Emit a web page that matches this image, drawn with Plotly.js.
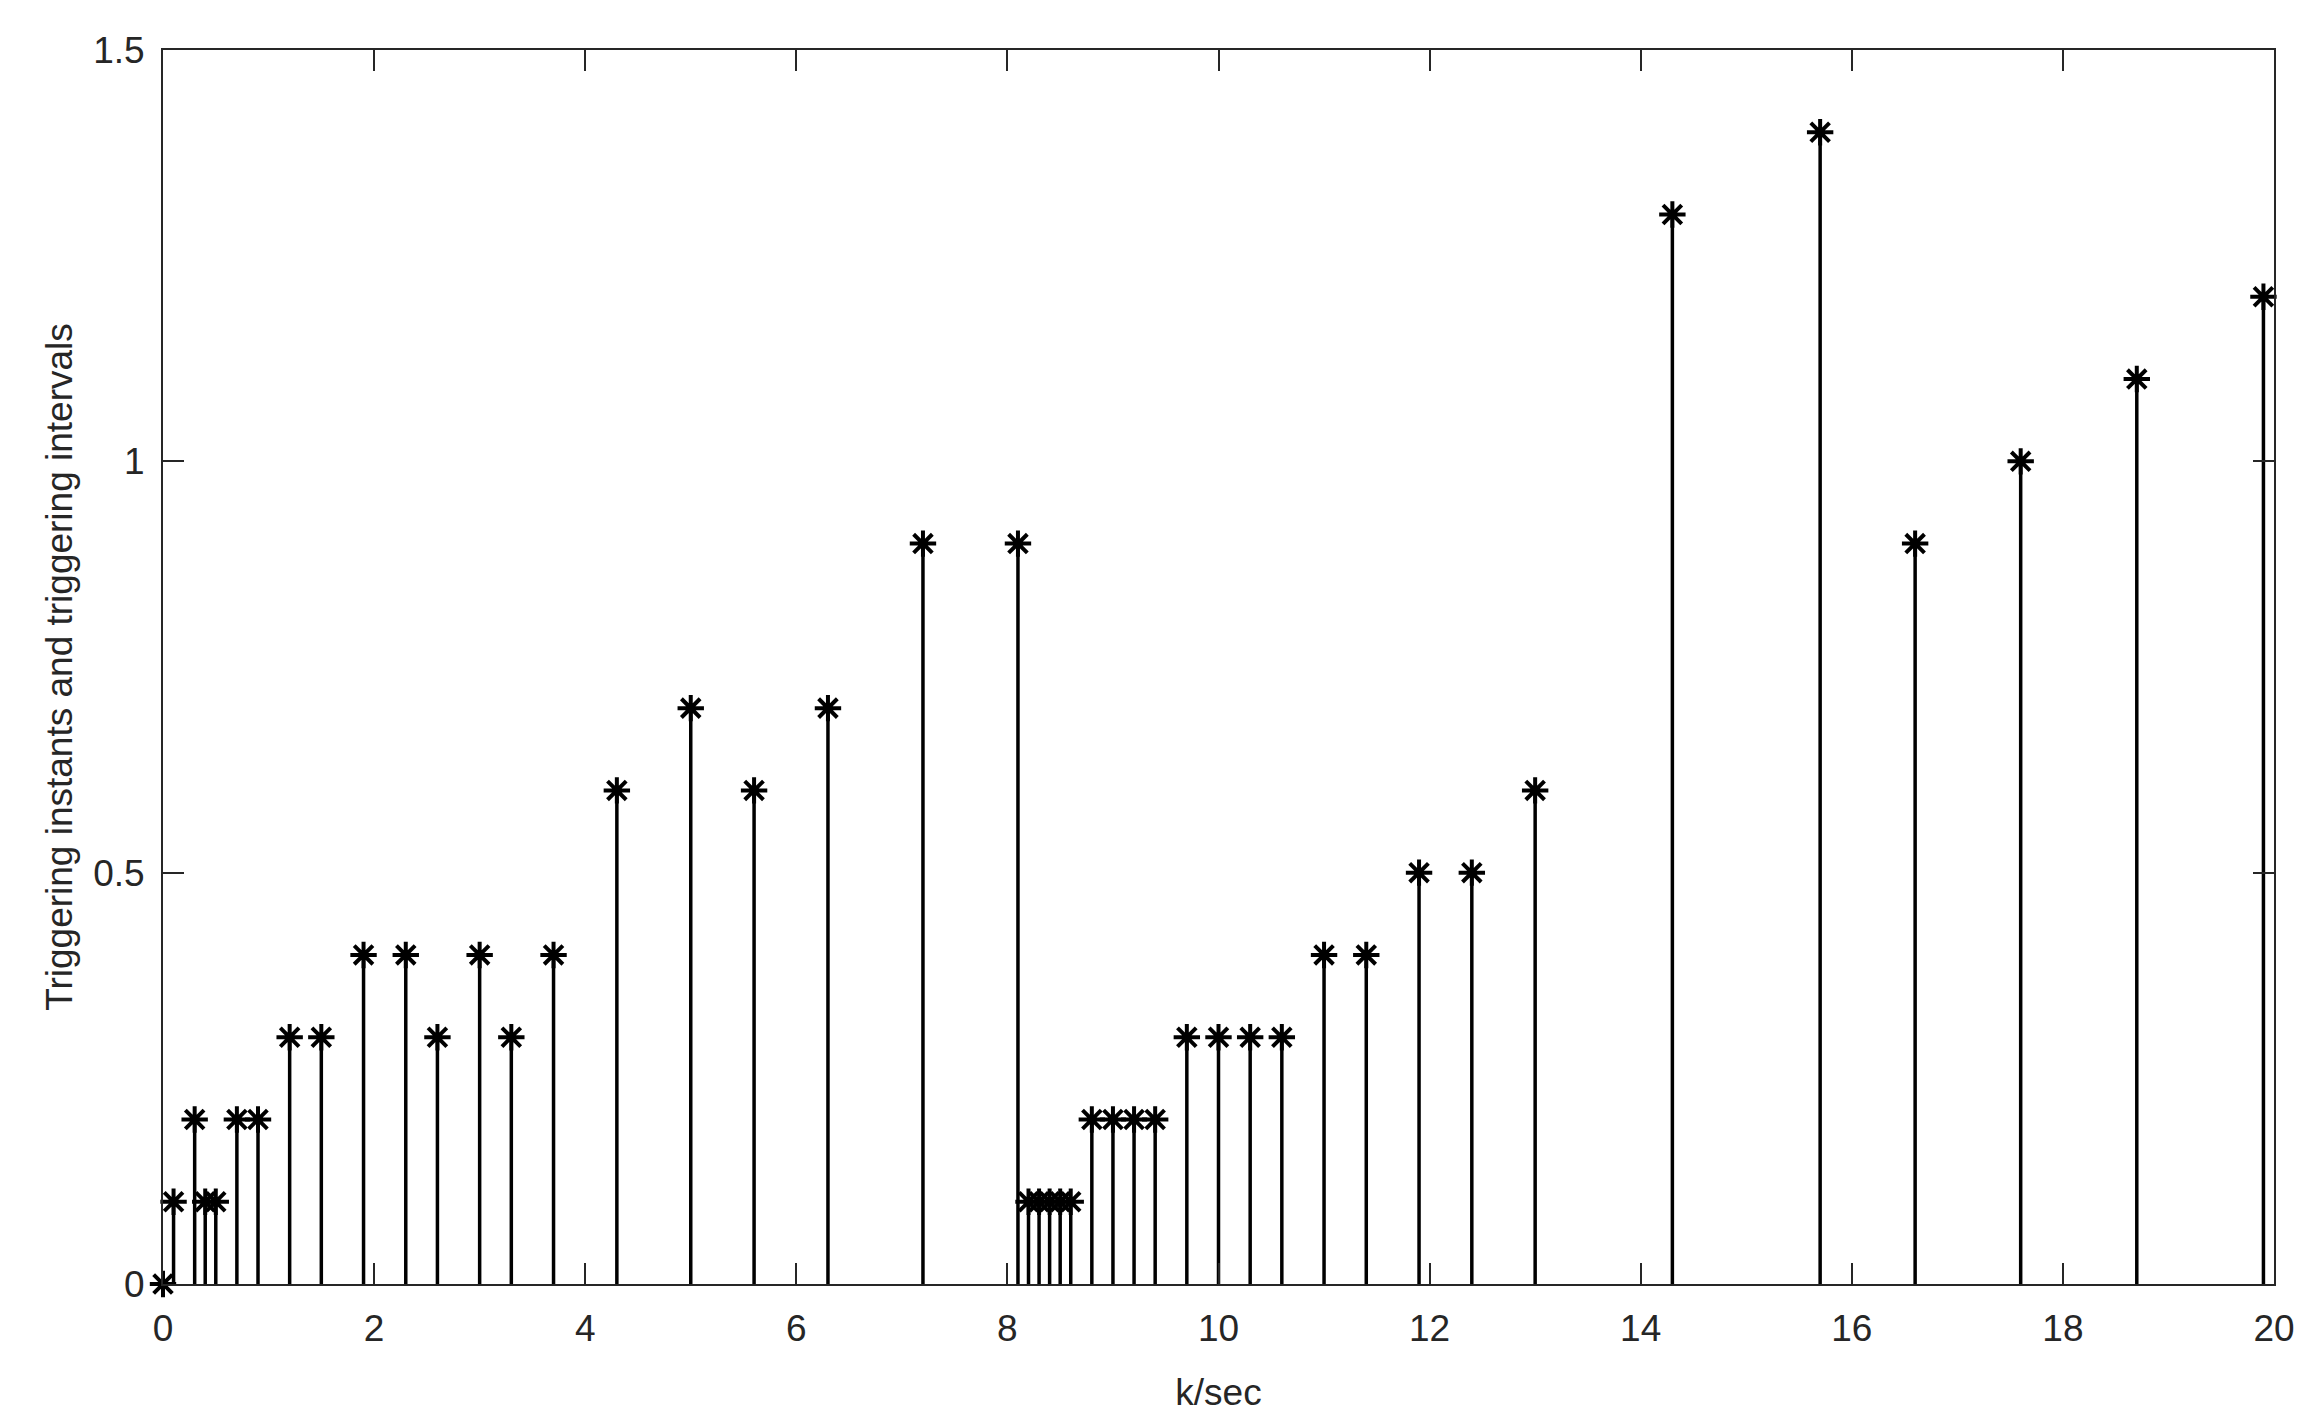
<!DOCTYPE html>
<html>
<head>
<meta charset="utf-8">
<script src="https://cdn.plot.ly/plotly-3.0.1.min.js"></script>
<style>html,body{margin:0;padding:0;background:#fff;}#chart{width:2323px;height:1416px;}</style>
</head>
<body>
<div id="chart"></div>
<script>
// Triggering instants (k/sec) and triggering intervals
const instants = [0, 0.1, 0.3, 0.4, 0.5, 0.7, 0.9, 1.2, 1.5, 1.9, 2.3, 2.6, 3.0, 3.3, 3.7, 4.3, 5.0, 5.6, 6.3, 7.2, 8.1, 8.2, 8.3, 8.4, 8.5, 8.6, 8.8, 9.0, 9.2, 9.4, 9.7, 10.0, 10.3, 10.6, 11.0, 11.4, 11.9, 12.4, 13.0, 14.3, 15.7, 16.6, 17.6, 18.7, 19.9];
const intervals = [0, 0.1, 0.2, 0.1, 0.1, 0.2, 0.2, 0.3, 0.3, 0.4, 0.4, 0.3, 0.4, 0.3, 0.4, 0.6, 0.7, 0.6, 0.7, 0.9, 0.9, 0.1, 0.1, 0.1, 0.1, 0.1, 0.2, 0.2, 0.2, 0.2, 0.3, 0.3, 0.3, 0.3, 0.4, 0.4, 0.5, 0.5, 0.6, 1.3, 1.4, 0.9, 1.0, 1.1, 1.2];
const xTicks = [0, 2, 4, 6, 8, 10, 12, 14, 16, 18, 20];
const xTickLabels = ["0", "2", "4", "6", "8", "10", "12", "14", "16", "18", "20"];
const yTicks = [0, 0.5, 1, 1.5];
const yTickLabels = ["0", "0.5", "1", "1.5"];

// stem lines built from the data
const stemX = [], stemY = [];
instants.forEach((x, i) => { stemX.push(x, x, null); stemY.push(0, intervals[i], null); });

const font = {family: "Liberation Sans, Arial, sans-serif", size: 37, color: "#262626"};

const traces = [
  {x: stemX, y: stemY, type: "scatter", mode: "lines", line: {color: "#000", width: 3.5}, hoverinfo: "skip", cliponaxis: false},
  {x: instants, y: intervals, type: "scatter", mode: "markers", cliponaxis: false,
   marker: {symbol: "asterisk-open", size: 22, color: "#000", line: {color: "#000", width: 4}}}
];

const axisCommon = {showgrid: false, zeroline: false, showline: true, linecolor: "#262626", linewidth: 2,
  mirror: "allticks", ticks: "inside", ticklen: 21, tickwidth: 2, tickcolor: "#262626", tickfont: font};

const layout = {
  width: 2323, height: 1416, showlegend: false,
  paper_bgcolor: "#fff", plot_bgcolor: "#fff",
  margin: {l: 163, r: 49, t: 50, b: 132},
  xaxis: Object.assign({}, axisCommon, {range: [0, 20], tickvals: xTicks, ticktext: xTickLabels,
    ticklabelstandoff: 11, title: {text: "k/sec", font: font, standoff: 31}}),
  yaxis: Object.assign({}, axisCommon, {range: [0, 1.5], tickvals: yTicks, ticktext: yTickLabels,
    ticklabelstandoff: 9, title: {text: "Triggering instants and triggering intervals", font: font, standoff: 9}})
};

Plotly.newPlot("chart", traces, layout, {displayModeBar: false, staticPlot: true});
</script>
</body>
</html>
